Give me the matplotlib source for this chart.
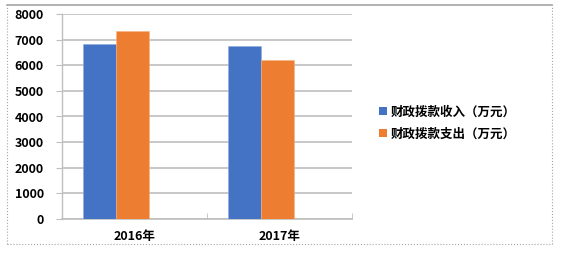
import numpy as np
import matplotlib.pyplot as plt
from matplotlib.lines import Line2D
from matplotlib.patches import Patch

plt.rcParams['font.family'] = ['Noto Sans CJK SC', 'DejaVu Sans']

DPI = 100
FIGSIZE_X = 561
FIGSIZE_Y = 254

# data
years = ['2016年', '2017年']
income = [6830, 6770]      # 财政拨款收入（万元）
expense = [7340, 6210]     # 财政拨款支出（万元）
series_names = ['财政拨款收入（万元）', '财政拨款支出（万元）']

BLUE = '#4472C4'
ORANGE = '#ED7D31'
GRID = '#BFBFBF'
FS = 9

fig = plt.figure(figsize=(FIGSIZE_X/DPI, FIGSIZE_Y/DPI), dpi=DPI)
ax = fig.add_axes([62/561, 1-219/254, (352-62)/561, (219-14)/254])

x = np.arange(len(years))
w = 0.225
ax.bar(x - w - 0.015, income, width=w, color=BLUE, edgecolor='#8FAADC', linewidth=0.4, zorder=3)
ax.bar(x - 0.015, expense, width=w, color=ORANGE, edgecolor='#F4B183', linewidth=0.4, zorder=3)

ax.set_xlim(-0.5, len(years) - 0.5)
ax.set_ylim(0, 8000)
ax.set_yticks(np.arange(0, 8001, 1000))
ax.yaxis.grid(True, color=GRID, linewidth=1.2, zorder=0)

# category labels in the middle, tick marks on the boundaries
ax.set_xticks(x)
ax.set_xticklabels(years, fontsize=FS, fontweight='black')
ax.tick_params(axis='x', length=0, pad=8)
ax.set_xticks(np.arange(-0.5, len(years), 1.0), minor=True)
ax.tick_params(axis='x', which='minor', length=4, color=GRID, direction='in')
ax.tick_params(axis='y', length=4, color=GRID, labelsize=FS, pad=9)
for lab in ax.get_yticklabels():
    lab.set_fontweight('black')

for side in ['top', 'right']:
    ax.spines[side].set_visible(False)
ax.spines['left'].set_color(GRID)
ax.spines['bottom'].set_color(GRID)
ax.spines['left'].set_linewidth(1.0)
ax.spines['bottom'].set_linewidth(1.2)

handles = [Patch(facecolor=BLUE), Patch(facecolor=ORANGE)]
fig.legend(handles, series_names, loc='center left', bbox_to_anchor=(368/561, 1-123/254),
           frameon=False, handlelength=0.6, handleheight=0.6,
           handletextpad=0.3, labelspacing=0.75, prop={'weight': 'black', 'size': FS})

# outer frame
fx0, fx1 = 7/561, 552/561
fy0, fy1 = 1-244/254, 1-5/254
fig.add_artist(Line2D([fx0, fx1], [fy1, fy1], color='#A6A6A6', linewidth=1.2, transform=fig.transFigure))
fig.add_artist(Line2D([fx0, fx0], [fy0, fy1], color='#A6A6A6', linewidth=0.8, linestyle=':', transform=fig.transFigure))
fig.add_artist(Line2D([fx1, fx1], [fy0, fy1], color='#A6A6A6', linewidth=0.8, linestyle=':', transform=fig.transFigure))
fig.add_artist(Line2D([fx0, fx1], [fy0, fy0], color='#A6A6A6', linewidth=0.8, linestyle=':', transform=fig.transFigure))

fig.savefig('out.png', dpi=DPI)
plt.close()
